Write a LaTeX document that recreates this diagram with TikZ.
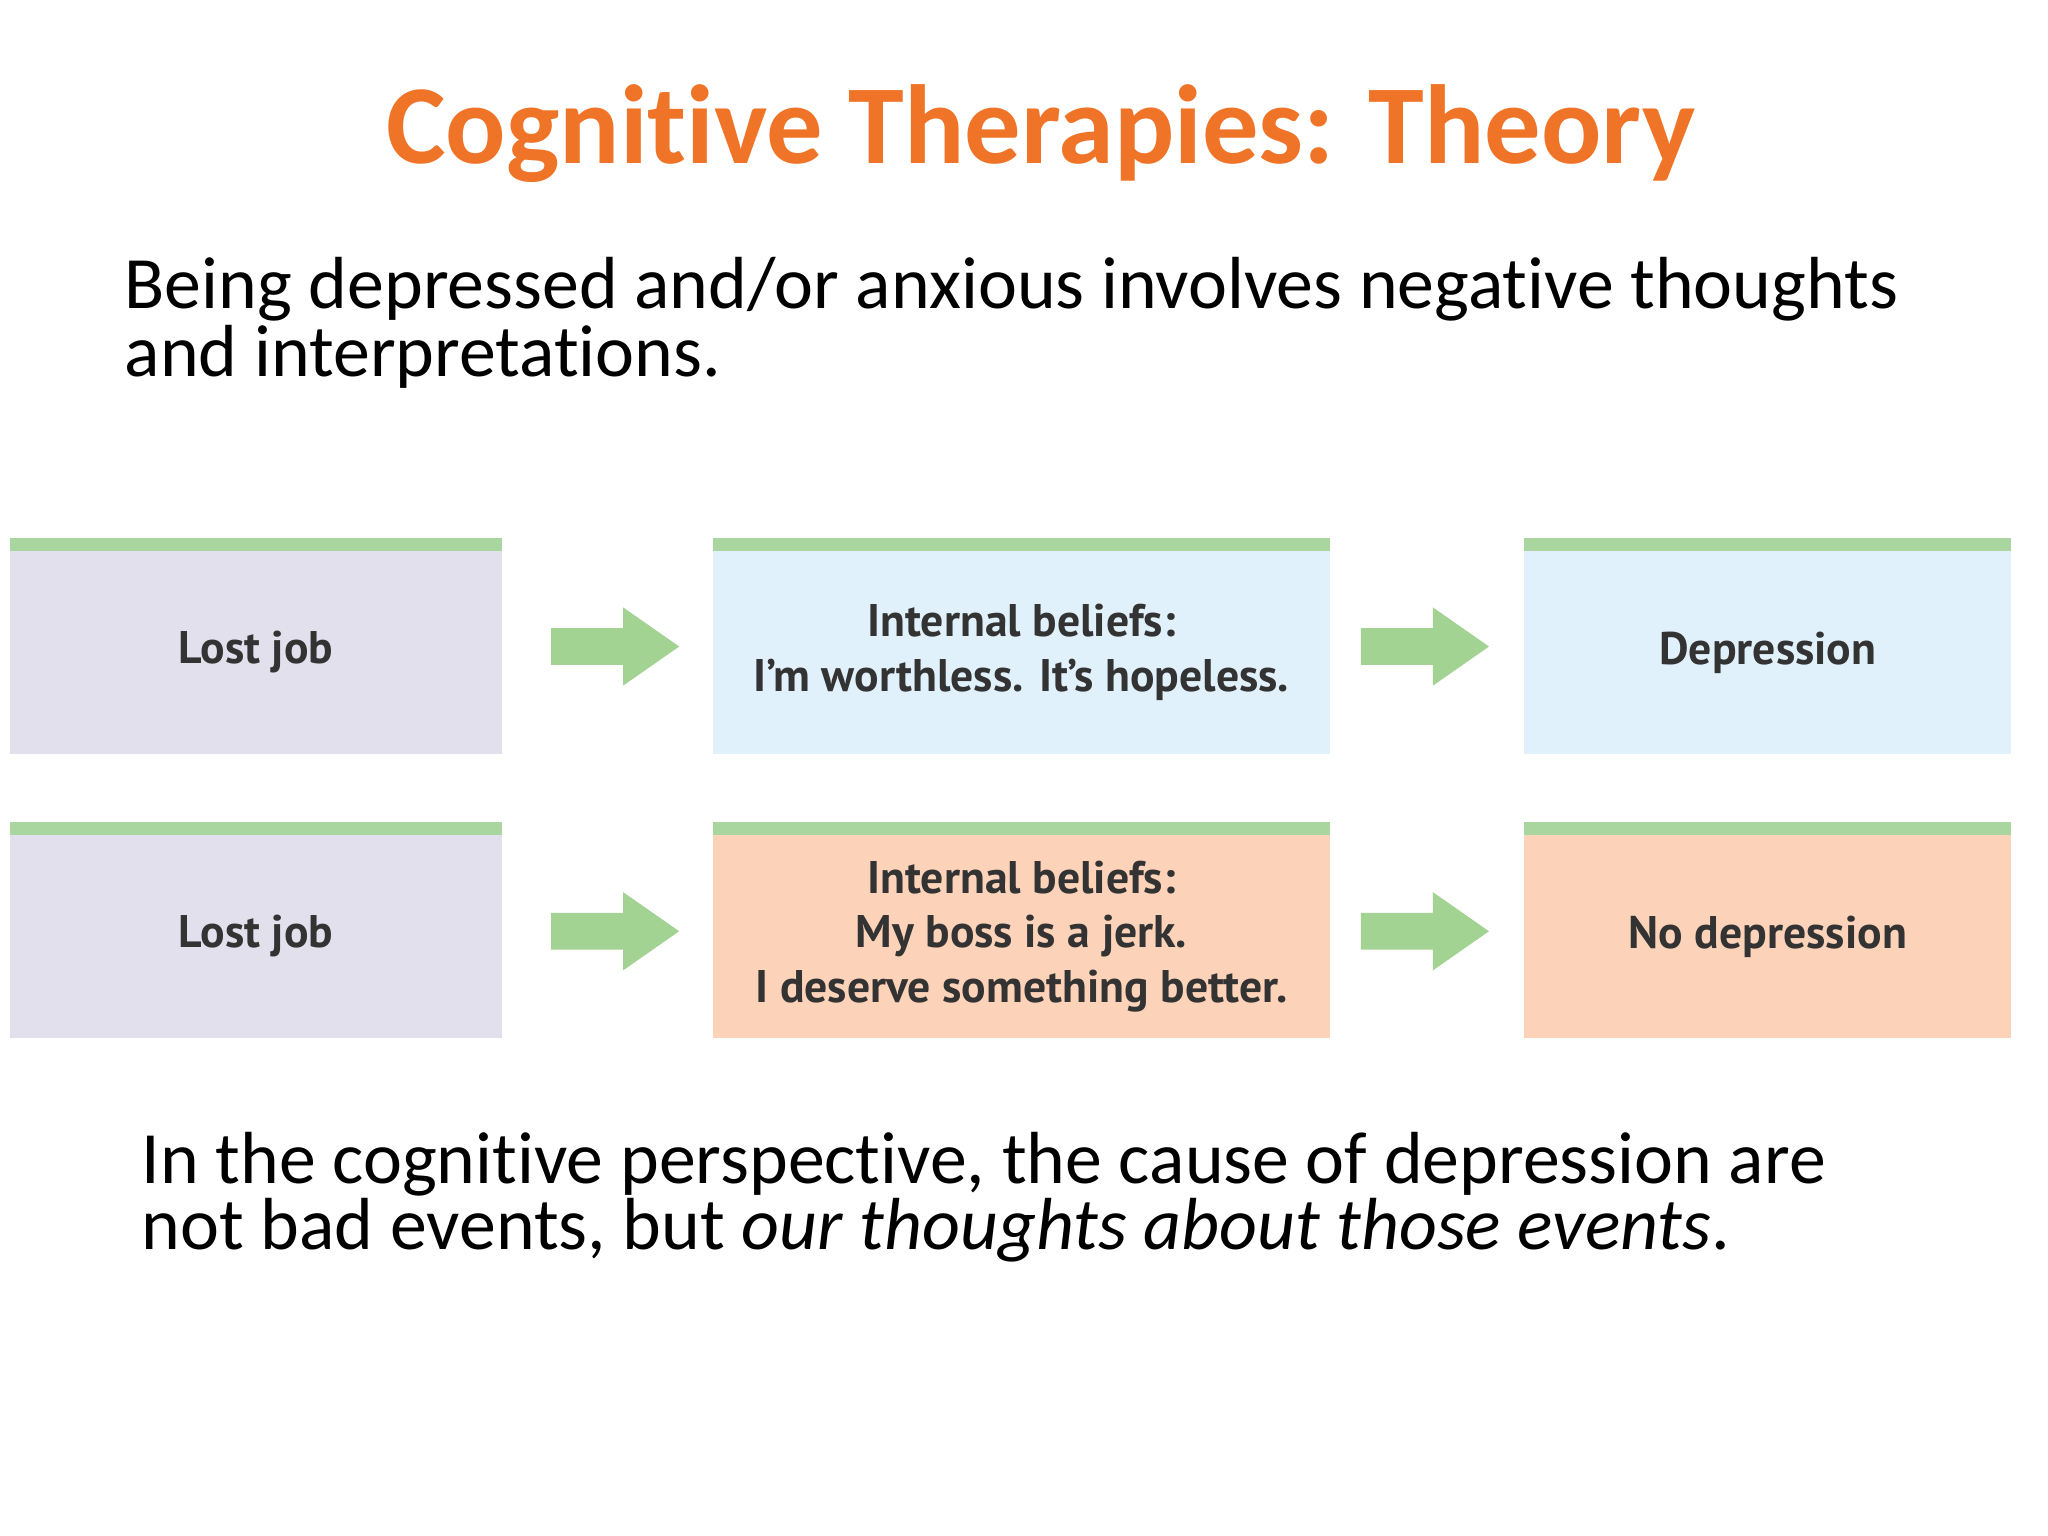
\documentclass[tikz,border=0pt]{standalone}
\usepackage{fontspec}
\setmainfont[RawFeature={-liga}]{Carlito}
\newfontfamily\boxfont{PT Sans}
\definecolor{titleor}{HTML}{F07428}
\definecolor{purp}{HTML}{E3E0EE}
\definecolor{blu}{HTML}{E1F1FB}
\definecolor{orb}{HTML}{FCD2B8}
\definecolor{gbar}{HTML}{A9D69E}
\definecolor{garr}{HTML}{A3D393}
\begin{document}
\begin{tikzpicture}[x=0.013061cm,y=-0.013061cm,
  bx/.style={draw=none,inner sep=0pt,font=\boxfont\bfseries\fontsize{13pt}{16pt}\selectfont,align=center,text=black!80},
  txt/.style={inner sep=0pt,anchor=base west,font=\fontsize{21pt}{25pt}\selectfont}]
\useasboundingbox[fill=white] (0,0) rectangle (1568,1176);
\node[font=\bfseries\fontsize{32pt}{38pt}\selectfont,text=titleor] (title) at (797,102) {Cognitive Therapies: Theory};
\node[txt] (l1) at (95,236) {Being depressed and/or anxious involves negative thoughts};
\node[txt] (l2) at (95,288) {and interpretations.};
\newcommand{\mybox}[6]{%
  \fill[#5] (#1,#3) rectangle (#2,#4);
  \fill[gbar] (#1,#3) rectangle (#2,#3+10);
  \node[bx] (#6) at ({(#1+#2)/2},{(#3+#4)/2+5}) {};}
\mybox{8}{384}{412}{577}{purp}{a1}
\mybox{546}{1018}{412}{577}{blu}{b1}
\mybox{1167}{1540}{412}{577}{blu}{c1}
\mybox{8}{384}{629}{795}{purp}{a2}
\mybox{546}{1018}{629}{795}{orb}{b2}
\mybox{1167}{1540}{629}{795}{orb}{c2}
\node[bx] at (a1) {Lost job};
\node[bx,font=\boxfont\bfseries\fontsize{13pt}{15.5pt}\selectfont] at (b1) {Internal beliefs:\\I’m worthless. It’s hopeless.};
\node[bx] at (c1) {Depression};
\node[bx] at (a2) {Lost job};
\node[bx,font=\boxfont\bfseries\fontsize{13pt}{15.5pt}\selectfont] at (b2) {Internal beliefs:\\My boss is a jerk.\\I deserve something better.};
\node[bx] at (c2) {No depression};
\newcommand{\myarrow}[2]{%
  \fill[garr] (#1,#2-14) -- (#1+55,#2-14) -- (#1+55,#2-30) -- (#1+98,#2) -- (#1+55,#2+30) -- (#1+55,#2+14) -- (#1,#2+14) -- cycle;}
\myarrow{422}{495}
\myarrow{1042}{495}
\myarrow{422}{713}
\myarrow{1042}{713}
\node[txt] (m1) at (108,906) {In the cognitive perspective, the cause of depression are};
\node[txt] (m2) at (108,957) {not bad events, but \textit{our thoughts about those events}.};
\end{tikzpicture}
\end{document}
